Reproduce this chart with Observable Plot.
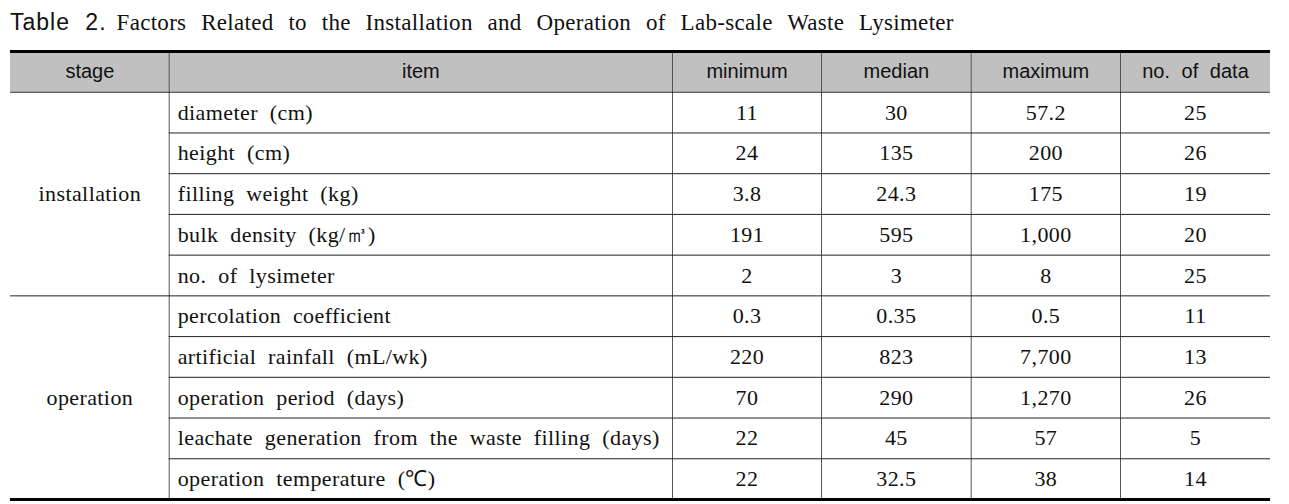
<!DOCTYPE html>
<html>
<head>
<meta charset="utf-8">
<script src="https://cdn.jsdelivr.net/npm/d3@7"></script>
<script src="https://cdn.jsdelivr.net/npm/@observablehq/plot@0.6"></script>
<style>
  html, body { margin: 0; padding: 0; background: #fff; }
  #title { height: 40px; padding-left: 10px; padding-top: 4px; box-sizing: border-box; white-space: nowrap; line-height: 36px; color: #111; }
  #title .lab { font-family: "Liberation Sans", Arial, sans-serif; font-size: 23px; word-spacing: 8px; letter-spacing: 1px; margin-right: 10px; display: inline-block; }
  #title .cap { font-family: "Liberation Serif", "Times New Roman", serif; font-size: 23px; word-spacing: 8.8px; letter-spacing: 0.3px; }
  #chart svg { display: block; }
  .body-text { word-spacing: 6px; letter-spacing: 0.4px; }
  .head-text { word-spacing: 6px; }
</style>
</head>
<body>
<div id="title"><span class="lab">Table 2.</span><span class="cap">Factors Related to the Installation and Operation of Lab-scale Waste Lysimeter</span></div>
<div id="chart"></div>
<script>
// ---- data ----
const columns = ["stage", "item", "minimum", "median", "maximum", "no. of data"];
const stages = ["installation", "operation"];
const items = [
  "diameter (cm)",
  "height (cm)",
  "filling weight (kg)",
  "bulk density (kg/㎥)",
  "no. of lysimeter",
  "percolation coefficient",
  "artificial rainfall (mL/wk)",
  "operation period (days)",
  "leachate generation from the waste filling (days)",
  "operation temperature (℃)"
];
const itemStage = ["installation", "installation", "installation", "installation", "installation",
                   "operation", "operation", "operation", "operation", "operation"];
const minimum = [11, 24, 3.8, 191, 2, 0.3, 220, 70, 22, 22];
const median  = [30, 135, 24.3, 595, 3, 0.35, 823, 290, 45, 32.5];
const maximum = [57.2, 200, 175, 1000, 8, 0.5, 7700, 1270, 57, 38];
const noOfData = [25, 26, 19, 20, 25, 11, 13, 26, 5, 14];

// ---- layout (column edges in px from table left) ----
const colEdges = [0, 158.7, 662, 811, 960.7, 1110, 1260];
const tableWidth = 1260;
const nRows = items.length + 1; // header + items

const fmt = v => v.toLocaleString("en-US");
const rows = items.map((d, i) => ({
  row: i + 1, item: d, stage: itemStage[i],
  minimum: fmt(minimum[i]), median: fmt(median[i]), maximum: fmt(maximum[i]), n: fmt(noOfData[i])
}));

// value cells
const valueCols = ["minimum", "median", "maximum", "n"];
const cells = [];
rows.forEach(r => valueCols.forEach((c, j) => {
  cells.push({x: (colEdges[j + 2] + colEdges[j + 3]) / 2, y: r.row + 0.5, text: r[c]});
}));

// header cells
const headerCells = columns.map((c, j) => ({x: (colEdges[j] + colEdges[j + 1]) / 2, y: 0.5, text: c}));

// stage labels centered over their row span
const stageCells = stages.map(s => {
  const rs = rows.filter(r => r.stage === s);
  return {x: (colEdges[0] + colEdges[1]) / 2, y: (rs[0].row + rs[rs.length - 1].row + 1) / 2, text: s};
});

// horizontal separators
const seps = [];
rows.forEach((r, i) => {
  if (i === rows.length - 1) return;
  const sameGroup = rows[i + 1].stage === r.stage;
  seps.push({y: r.row + 1, x1: sameGroup ? colEdges[1] : 0, x2: tableWidth});
});

const serif = "Liberation Serif, Times New Roman, serif";
const chart = Plot.plot({
  width: 1289,
  height: 464,
  marginLeft: 10,
  marginRight: 19,
  marginTop: 11,
  marginBottom: 5,
  x: {domain: [0, tableWidth], axis: null},
  y: {domain: [0, nRows], reverse: true, axis: null},
  marks: [
    // header background
    Plot.rect([{x1: 0, x2: tableWidth, y1: 0, y2: 1}], {x1: "x1", x2: "x2", y1: "y1", y2: "y2", fill: "#c0c0c0"}),
    // vertical lines
    Plot.ruleX(colEdges.slice(1, -1), {y1: 0, y2: nRows, stroke: "#555", strokeWidth: 1}),
    // row separators
    Plot.ruleY(seps, {y: "y", x1: "x1", x2: "x2", stroke: "#222", strokeWidth: 1}),
    // header bottom
    Plot.ruleY([1], {x1: 0, x2: tableWidth, stroke: "#222", strokeWidth: 1}),
    // thick top and bottom
    Plot.ruleY([0, nRows], {x1: 0, x2: tableWidth, stroke: "#000", strokeWidth: 3}),
    // header text
    Plot.text(headerCells, {x: "x", y: "y", text: "text", fontFamily: "Liberation Sans, Arial, sans-serif", fontSize: 20, fill: "#111", className: "head-text"}),
    // stage text
    Plot.text(stageCells, {x: "x", y: "y", text: "text", fontFamily: serif, fontSize: 22, fill: "#111", className: "body-text"}),
    // item text
    Plot.text(rows, {x: () => colEdges[1] + 8.5, y: d => d.row + 0.5, text: "item", textAnchor: "start", fontFamily: serif, fontSize: 22, fill: "#111", className: "body-text"}),
    // values
    Plot.text(cells, {x: "x", y: "y", text: "text", fontFamily: serif, fontSize: 22, fill: "#111", className: "body-text"})
  ]
});
document.getElementById("chart").appendChild(chart);
</script>
</body>
</html>
